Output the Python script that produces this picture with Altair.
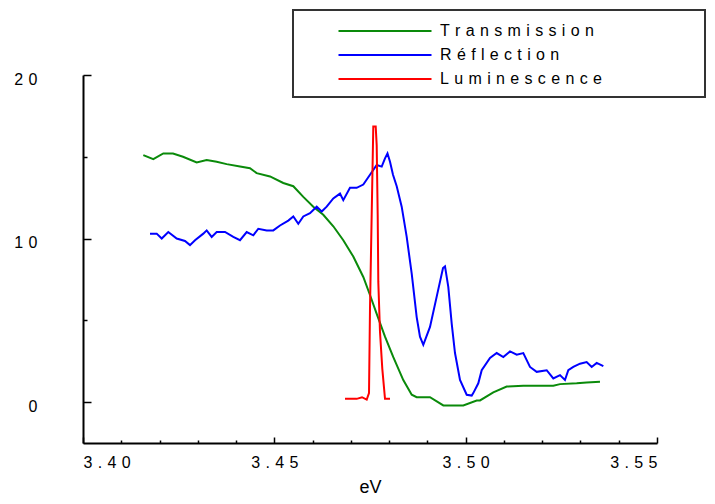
import altair as alt
import pandas as pd

# ---- data ----
trans_ev = [3.41576, 3.41837, 3.42098, 3.42352, 3.42613, 3.42971, 3.43232, 3.43494, 3.43755,
            3.44103, 3.44364, 3.44539, 3.44887, 3.45234, 3.45496, 3.45757, 3.46018, 3.46279,
            3.46541, 3.46802, 3.47063, 3.47325, 3.47500, 3.47675, 3.47892, 3.48109, 3.48370,
            3.48590, 3.48720, 3.49068, 3.49416, 3.49590, 3.49938, 3.50288, 3.50375, 3.50722,
            3.51072, 3.51506, 3.52290, 3.52465, 3.52901, 3.53162, 3.53510]
trans_val = [15.1, 14.85, 15.2, 15.2, 15.0, 14.65, 14.8, 14.7, 14.55,
             14.4, 14.3, 14.0, 13.8, 13.4, 13.2, 12.55, 11.95, 11.45,
             10.75, 9.9, 8.9, 7.65, 6.55, 5.4, 4.0, 2.75, 1.35,
             0.45, 0.3, 0.3, -0.2, -0.2, -0.2, 0.1, 0.1, 0.6,
             0.95, 1.0, 1.0, 1.1, 1.15, 1.2, 1.25]

refl_ev = [3.41751, 3.41926, 3.42057, 3.42229, 3.42449, 3.42665, 3.42796, 3.42927, 3.43144,
           3.43232, 3.43363, 3.43494, 3.43711, 3.43928, 3.44103, 3.44278, 3.44450, 3.44581,
           3.44800, 3.44973, 3.45148, 3.45365, 3.45496, 3.45626, 3.45757, 3.45932, 3.46107,
           3.46238, 3.46368, 3.46541, 3.46716, 3.46802, 3.46977, 3.47152, 3.47325, 3.47500,
           3.47675, 3.47806, 3.47892, 3.47957, 3.48023, 3.48101, 3.48198, 3.48328, 3.48459,
           3.48590, 3.48720, 3.48806, 3.48893, 3.49068, 3.49243, 3.49408, 3.49460, 3.49546,
           3.49635, 3.49721, 3.49852, 3.50027, 3.50158, 3.50199, 3.50330, 3.50419, 3.50636,
           3.50811, 3.50984, 3.51159, 3.51334, 3.51506, 3.51681, 3.51856, 3.52118, 3.52290,
           3.52465, 3.52595, 3.52682, 3.52813, 3.52988, 3.53162, 3.53293, 3.53424, 3.53598]
refl_val = [10.3, 10.3, 10.0, 10.4, 10.0, 9.85, 9.6, 9.9, 10.3,
            10.5, 10.1, 10.4, 10.4, 10.1, 9.9, 10.4, 10.2, 10.6,
            10.5, 10.5, 10.8, 11.1, 11.35, 10.9, 11.35, 11.55, 11.95,
            11.65, 11.95, 12.45, 12.75, 12.35, 13.1, 13.1, 13.3, 13.9,
            14.5, 14.4, 14.9, 15.2, 14.7, 13.9, 13.2, 11.95, 10.1,
            7.85, 5.2, 4.0, 3.5, 4.6, 6.45, 8.2, 8.3, 7.05,
            4.8, 3.0, 1.35, 0.45, 0.4, 0.55, 1.15, 1.95, 2.7,
            3.0, 2.75, 3.1, 2.9, 3.0, 2.15, 1.85, 1.95, 1.45,
            1.65, 1.35, 1.95, 2.15, 2.35, 2.45, 2.15, 2.4, 2.2]

lum_ev = [3.46847, 3.47152, 3.47291, 3.47414, 3.47474, 3.47500, 3.47544, 3.47586, 3.47649,
          3.47675, 3.47701, 3.47717, 3.47761, 3.47821, 3.47892, 3.48023]
lum_val = [0.2, 0.2, 0.3, 0.15, 0.55, 5.75, 11.45, 16.85, 16.85,
           15.7, 11.45, 7.35, 4.3, 2.05, 0.2, 0.2]

series_names = ["Transmission", "Réflection", "Luminescence"]
series_colors = ["#0a8a0a", "#0000ff", "#ff0000"]

x_label_values = [3.40, 3.45, 3.50, 3.55]
x_minor_ticks = [3.41, 3.42, 3.43, 3.44, 3.46, 3.47, 3.48, 3.49, 3.51, 3.52, 3.53, 3.54]
y_label_values = [0, 10, 20]
y_minor_ticks = [5, 15]

rows = []
for name, xs_, ys_ in zip(series_names, [trans_ev, refl_ev, lum_ev], [trans_val, refl_val, lum_val]):
    for i, (a, b) in enumerate(zip(xs_, ys_)):
        rows.append({"ev": a, "val": b, "series": name, "i": i})
df = pd.DataFrame(rows)

FONT = "'Liberation Sans', Arial, sans-serif"
spaced = "join(split(datum.label, ''), '\u2004')"

xscale = alt.Scale(domain=[3.40, 3.55], nice=False, zero=False)
yscale = alt.Scale(domain=[-2.5, 20], nice=False, zero=False)

frame = alt.Chart(pd.DataFrame({"k": [0]})).mark_rect(
    fill="white", stroke="#333333", strokeWidth=2
).encode(x=alt.value(210), x2=alt.value(622), y=alt.value(-65), y2=alt.value(22))

lines = alt.Chart(df).mark_line(strokeWidth=2).encode(
    x=alt.X("ev:Q", scale=xscale, axis=alt.Axis(
        values=x_label_values, format=".2f", labelExpr=spaced, ticks=False, tickSize=0,
        domainColor="black", domainWidth=2, labelPadding=11, labelFont=FONT, labelFontSize=16,
        labelColor="black", title="eV", titleFont=FONT, titleFontSize=18, titleFontWeight="normal",
        titleColor="black", titlePadding=8, grid=False, orient="bottom")),
    y=alt.Y("val:Q", scale=yscale, axis=alt.Axis(
        values=y_label_values, format="d", labelExpr=spaced, ticks=False, tickSize=0,
        domainColor="black", domainWidth=2, labelPadding=46, labelOffset=4, labelFont=FONT,
        labelFontSize=16, labelColor="black", title=None, grid=False, orient="left")),
    color=alt.Color("series:N", scale=alt.Scale(domain=series_names, range=series_colors),
                    legend=alt.Legend(orient="none", legendX=294, legendY=-52, title=None,
                                      symbolType="M-10,0H10", symbolSize=86.5, symbolStrokeWidth=2,
                                      labelOffset=47, labelFont=FONT, labelFontSize=16,
                                      labelColor="black", labelExpr=spaced, labelLimit=400,
                                      rowPadding=8, padding=0)),
    order="i:Q",
)


def tick_layer(xvals, xsize, yvals, ysize):
    return alt.Chart(df).mark_point(opacity=0, size=1).encode(
        x=alt.X("ev:Q", scale=xscale, axis=alt.Axis(
            values=xvals, labels=False, domain=False, ticks=True, tickSize=xsize,
            offset=-xsize, tickColor="black", tickWidth=1.5, grid=False, title=None,
            orient="bottom")),
        y=alt.Y("val:Q", scale=yscale, axis=alt.Axis(
            values=yvals, labels=False, domain=False, ticks=True, tickSize=ysize,
            offset=-ysize, tickColor="black", tickWidth=1.5, grid=False, title=None,
            orient="left")),
    )


major = tick_layer(x_label_values, 6, y_label_values, 8)
minor = tick_layer(x_minor_ticks, 3, y_minor_ticks, 4)

chart = alt.layer(frame, major, minor, lines).resolve_scale(
    x="shared", y="shared"
).resolve_axis(x="independent", y="independent").properties(
    width=574, height=368,
    autosize=alt.AutoSizeParams(type="none"),
    padding={"left": 75, "top": 67, "right": 50, "bottom": 53},
).configure_view(stroke=None)

chart.save("out.html", embed_options={"renderer": "svg", "actions": False})
